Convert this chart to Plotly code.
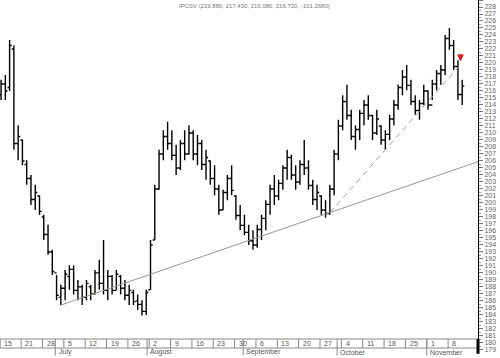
import plotly.graph_objects as go

# trading-day index 0 = first bar (mid June)
high = [217.6,218.3,223.3,222.5,211.1,209.0,206.1,204.0,202.6,201.1,198.3,196.9,193.3,189.7,188.3,190.4,191.1,191.1,189.0,188.3,
        189.0,188.3,190.4,191.9,194.7,190.4,189.7,190.4,189.7,189.0,188.3,187.6,186.9,186.1,187.6,194.7,202.6,207.6,210.4,211.6,
        210.4,208.3,209.0,210.4,211.1,210.4,209.7,209.0,207.6,206.1,205.4,202.6,201.9,204.0,205.4,201.1,199.7,198.3,196.9,196.1,
        196.9,198.3,200.4,202.6,204.0,203.3,205.4,207.6,206.9,205.4,206.1,209.0,206.1,203.3,202.6,201.1,200.4,202.6,207.6,211.9,
        215.4,216.9,213.3,211.1,213.3,214.7,215.4,212.6,213.3,211.1,210.4,212.6,214.7,216.9,219.0,219.7,217.6,215.4,214.7,216.9,
        216.1,217.6,219.0,219.7,224.0,225.0,223.3,220.4,217.6]
low = [214.7,214.7,216.0,207.6,206.1,205.4,202.6,199.7,199.0,198.3,194.7,192.6,189.7,186.1,185.4,186.1,187.6,186.9,186.1,185.4,
       186.1,186.1,186.9,187.6,186.9,186.1,186.9,187.6,186.9,186.1,185.4,185.4,184.7,183.9,184.0,187.6,194.7,201.9,206.1,207.6,
       206.1,204.0,204.7,206.1,206.9,206.1,205.4,204.7,203.3,202.6,201.1,198.3,199.0,200.4,201.1,197.6,196.1,195.4,194.0,193.3,
       193.6,194.7,196.1,198.3,199.7,200.4,201.9,203.3,203.3,201.9,202.6,204.0,201.9,199.7,199.0,198.3,197.9,198.3,201.1,206.1,
       210.4,211.9,209.0,207.6,209.0,211.1,211.9,209.0,209.7,208.3,207.6,209.0,211.1,213.3,215.4,216.1,214.0,212.6,211.9,214.0,
       213.3,214.7,216.1,216.9,218.3,221.9,219.0,214.7,214.0]
open_ = [215.5,217.0,216.5,222.0,208.5,209.0,205.5,203.5,200.5,201.0,198.0,195.5,193.0,190.0,186.5,187.8,189.5,190.5,187.5,188.0,
         186.5,188.0,187.0,190.0,188.5,187.5,189.5,187.5,189.5,187.8,186.8,187.2,186.0,185.5,184.5,187.6,194.7,202.0,207.0,209.5,
         208.5,206.8,205.0,208.5,207.0,210.0,207.0,208.5,205.5,206.0,203.5,202.0,199.0,201.5,203.5,201.0,198.2,196.8,195.8,194.6,
         194.0,196.2,197.8,199.8,202.0,201.0,202.8,205.0,206.5,204.0,203.0,205.5,205.0,202.5,200.5,201.0,199.0,198.5,202.0,207.0,
         211.0,214.5,212.5,209.5,210.5,212.8,214.0,212.5,210.0,211.0,209.0,209.8,212.0,214.0,216.5,218.0,216.8,214.5,213.2,214.2,
         216.0,214.0,217.0,218.5,219.0,223.5,222.5,219.5,215.5]
close = [217.0,216.0,222.5,208.5,209.5,206.0,203.5,200.5,201.5,198.8,195.5,193.0,190.2,186.8,187.8,189.8,190.5,187.5,188.0,186.5,
         188.5,187.0,190.0,188.5,187.5,189.5,187.5,189.8,187.8,186.8,187.5,185.9,185.5,184.5,187.2,194.0,202.0,207.0,209.5,208.5,
         206.8,205.0,208.5,207.0,210.0,207.0,208.5,205.5,206.5,203.5,202.0,199.0,201.5,203.5,201.8,198.2,196.8,195.8,194.6,194.0,
         196.2,197.8,199.8,202.0,201.0,202.8,205.0,206.5,204.0,203.0,205.5,205.0,202.5,200.5,201.5,199.0,198.5,202.0,207.0,211.0,
         214.5,212.5,209.5,210.5,212.8,214.0,212.5,210.0,212.0,209.0,209.8,212.0,214.0,216.5,218.0,216.8,214.5,213.2,214.2,216.0,
         214.0,217.0,218.5,219.0,223.5,222.5,219.5,215.5,216.7]
days = list(range(len(high)))

# week starts (day index) and their labels
week_pos = [0, 5, 10, 15, 20, 25, 30, 35, 40, 45, 50, 55, 60, 65, 70, 75, 80, 85, 90, 95, 100, 105]
week_lbl = ["15", "21", "28", "5", "12", "19", "26", "2", "9", "16", "23", "30", "6", "13", "20", "27", "4", "11", "18", "25", "1", "8"]
month_pos = [13, 34.5, 57, 79, 100]
month_lbl = ["July", "August", "September", "October", "November"]

# trendlines (day index, price)
support_x = [14, 111.7]
support_y = [185.4, 205.9]
rise_x = [77, 107.5]
rise_y = [198.6, 219.7]

arrow_day = 107.6
arrow_price = 220.2

title_txt = "IPCSV (219.880, 217.430, 216.080, 216.720, -101.2680)"

X0, X1 = -0.25, 111.7
Y0, Y1 = 178.7, 229.0
PLOT_H = 352.0
STRIP_TOP_PX = 339
STRIP_BOT_PX = 348

fig = go.Figure()
fig.add_trace(go.Ohlc(x=days, open=open_, high=high, low=low, close=close,
                      increasing=dict(line=dict(color="black", width=1.4)),
                      decreasing=dict(line=dict(color="black", width=1.4)),
                      tickwidth=0.5, hoverinfo="skip", showlegend=False))
fig.add_trace(go.Scatter(x=support_x, y=support_y, mode="lines",
                         line=dict(color="#8a9e8a", width=1), showlegend=False, hoverinfo="skip"))
fig.add_trace(go.Scatter(x=rise_x, y=rise_y, mode="lines",
                         line=dict(color="#a0a0a0", width=1, dash="6px,4px"), showlegend=False, hoverinfo="skip"))

shapes = []
annotations = []
s_top = (PLOT_H - STRIP_TOP_PX) / PLOT_H
s_bot = (PLOT_H - STRIP_BOT_PX) / PLOT_H
lab_font = dict(size=7, color="#555555", family="Liberation Sans")
# date strip box
shapes.append(dict(type="rect", xref="paper", yref="paper", x0=0, x1=1, y0=s_bot, y1=s_top,
                   line=dict(color="#888888", width=1), fillcolor="white", layer="above"))
for p, t in zip(week_pos, week_lbl):
    shapes.append(dict(type="line", xref="x", yref="paper", x0=p - 0.3, x1=p - 0.3, y0=s_bot, y1=s_top,
                       line=dict(color="#888888", width=1), layer="above"))
    annotations.append(dict(x=p + 0.2, y=(s_top + s_bot) / 2, xref="x", yref="paper", text=t, showarrow=False,
                            xanchor="left", yanchor="middle", font=lab_font))
for p, t in zip(month_pos, month_lbl):
    shapes.append(dict(type="line", xref="x", yref="paper", x0=p - 0.3, x1=p - 0.3, y0=-0.01, y1=s_top,
                       line=dict(color="#888888", width=1), layer="above"))
    annotations.append(dict(x=p, y=-6 / PLOT_H, xref="x", yref="paper", text=t, showarrow=False,
                            xanchor="left", yanchor="bottom", font=lab_font))
# thick end marker at right of strip
shapes.append(dict(type="line", xref="paper", yref="paper", x0=1, x1=1, y0=-0.005, y1=s_top,
                   line=dict(color="black", width=3), layer="above"))

annotations.append(dict(x=177 / 478, y=1, xref="paper", yref="paper", text=title_txt, showarrow=False,
                        xanchor="left", yanchor="top", yshift=-1,
                        font=dict(size=6, color="#777777", family="Liberation Sans")))
annotations.append(dict(x=arrow_day, y=arrow_price, xref="x", yref="y", text="", showarrow=True,
                        ax=0, ay=-9, arrowcolor="#e02020", arrowhead=2, arrowsize=0.7, arrowwidth=2))

fig.update_layout(
    width=500, height=358,
    margin=dict(l=0, r=22, t=0, b=6),
    paper_bgcolor="white", plot_bgcolor="white",
    shapes=shapes, annotations=annotations,
    xaxis=dict(range=[X0, X1], showgrid=False, zeroline=False, showticklabels=False,
               ticks="", rangeslider=dict(visible=False), showline=False),
    yaxis=dict(range=[Y0, Y1], side="right", dtick=1, tick0=179, showgrid=False, zeroline=False,
               showline=True, linecolor="black", linewidth=1, ticks="outside", ticklen=4,
               tickcolor="#777777", tickfont=dict(size=7, color="#666666", family="Liberation Sans"),
               minor=dict(dtick=0.5, ticks="outside", ticklen=2, tickcolor="#999999")),
    font=dict(family="Liberation Sans"),
)
fig.write_html("out.html")
